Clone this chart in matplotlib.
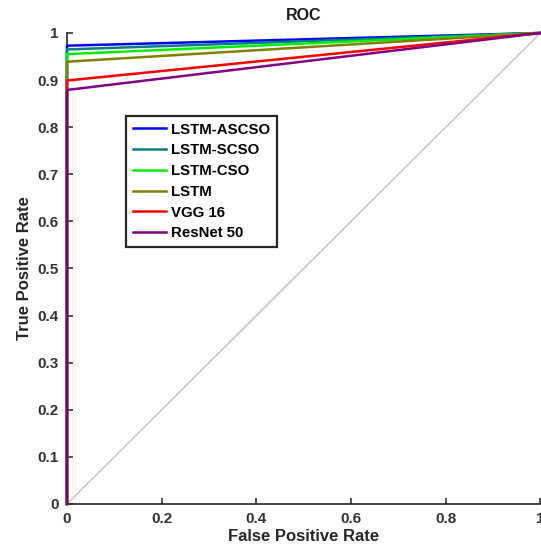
import numpy as np
import matplotlib.pyplot as plt

plt.rcParams['font.family'] = ['Liberation Sans', 'DejaVu Sans']
plt.rcParams['font.weight'] = 'bold'

# modelos y su TPR en FPR=0
modelos = ['LSTM-ASCSO', 'LSTM-SCSO', 'LSTM-CSO', 'LSTM', 'VGG 16', 'ResNet 50']
tpr0 = [0.973, 0.965, 0.955, 0.939, 0.899, 0.879]
colores = ['#0000ff', '#008080', '#00ee00', '#808000', '#ff0000', '#800080']

fpr = [0, 0, 1]

fig = plt.figure(figsize=(5.41, 5.58), dpi=100)
ax = fig.add_axes([0.1238, 0.0968, 0.8752, 0.8441])

ax.plot([0, 1], [0, 1], color='#c8c8c8', linewidth=1.2)
for nombre, t, c in zip(modelos, tpr0, colores):
    ax.plot(fpr, [0, t, 1], color=c, linewidth=1.8, label=nombre, zorder=3, clip_on=False)

ax.set(xlim=(0, 1), ylim=(0, 1))
ax.set_xticks(np.arange(0, 1.01, 0.2))
ax.set_yticks(np.arange(0, 1.01, 0.1))
ax.set_xticklabels(['0', '0.2', '0.4', '0.6', '0.8', '1'])
ax.set_yticklabels(['0', '0.1', '0.2', '0.3', '0.4', '0.5', '0.6', '0.7', '0.8', '0.9', '1'])
ax.tick_params(direction='in', length=4, width=1.2, labelsize=11, colors='#333333', pad=6)
for s in ['top', 'right']:
    ax.spines[s].set_visible(False)
for s in ['left', 'bottom']:
    ax.spines[s].set_linewidth(1.2)
    ax.spines[s].set_color('#262626')

ax.set_xlabel('False Positive Rate', fontsize=12, fontweight='bold', color='#262626', labelpad=2)
ax.set_ylabel('True Positive Rate', fontsize=12, fontweight='bold', color='#262626', labelpad=4)
ax.set_title('ROC', fontsize=11.5, fontweight='bold', color='#1a1a1a', pad=9)

leg = ax.legend(loc='upper left', bbox_to_anchor=(0.1246, 0.824), fontsize=10.8,
                fancybox=False, edgecolor='#262626', framealpha=1,
                handlelength=2.2, borderaxespad=0, labelspacing=0.45,
                handletextpad=0.35, borderpad=0.45)
leg.get_frame().set_linewidth(1.6)

fig.savefig('out.png', dpi=100)
